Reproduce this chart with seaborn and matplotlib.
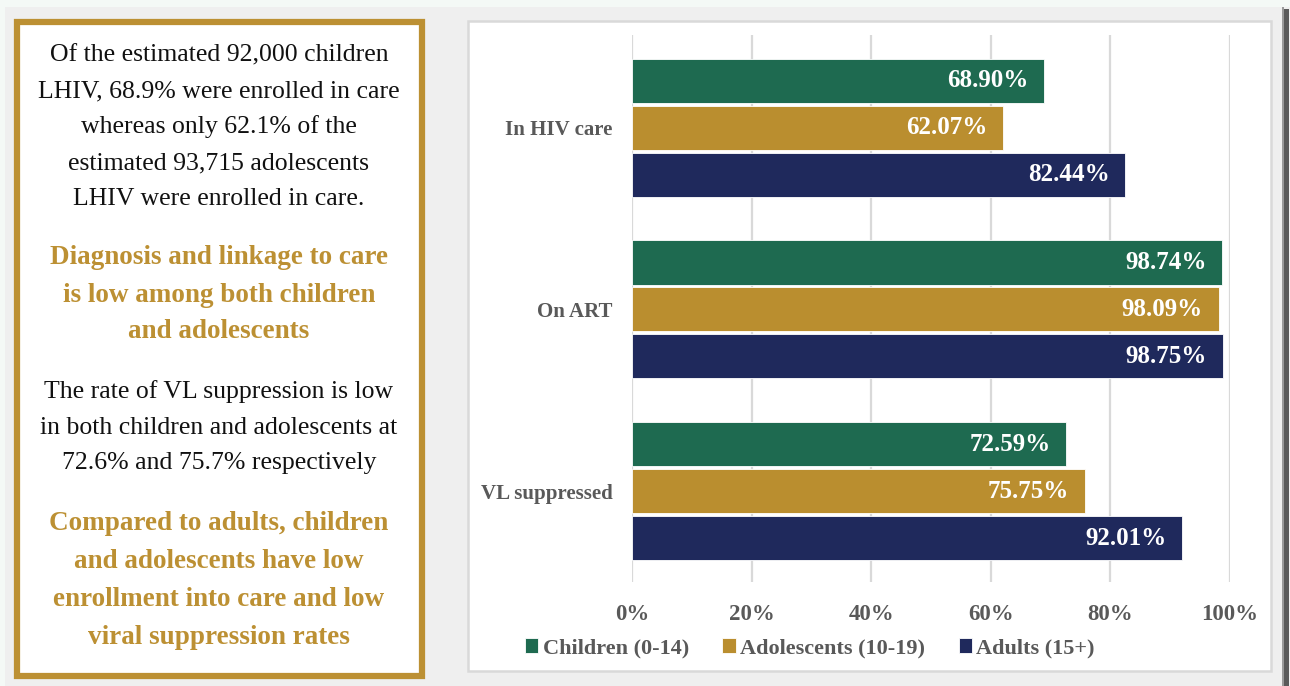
import matplotlib
matplotlib.use("Agg")
import matplotlib.pyplot as plt
from matplotlib.patches import Rectangle
import seaborn as sns
import pandas as pd

# ---- data -------------------------------------------------------------
measures = ["In HIV care", "On ART", "VL suppressed"]
groups = ["Children (0-14)", "Adolescents (10-19)", "Adults (15+)"]
children = [68.90, 98.74, 72.59]
adolescents = [62.07, 98.09, 75.75]
adults = [82.44, 98.75, 92.01]
x_ticks = [0, 20, 40, 60, 80, 100]
x_tick_labels = ["0%", "20%", "40%", "60%", "80%", "100%"]

colors = ["#1E6A50", "#BA8E2F", "#1F295C"]
gold = "#BC9033"
label_grey = "#595959"

df = pd.DataFrame({
    "measure": measures * 3,
    "group": [g for g in groups for _ in measures],
    "value": children + adolescents + adults,
})

# ---- figure -----------------------------------------------------------
W, H = 1290, 686
sns.set_style("white")
plt.rcParams["font.family"] = ["Liberation Serif", "DejaVu Serif"]

fig = plt.figure(figsize=(W / 100, H / 100), dpi=100, facecolor="#efefef")


def fx(px):
    return px / W


def fy(py):
    return 1 - py / H


def rect(x0, y0, x1, y1, **kw):
    fig.add_artist(Rectangle((fx(x0), fy(y1)), fx(x1) - fx(x0), fy(y0) - fy(y1),
                             transform=fig.transFigure, zorder=-1, **kw))


# page background strips
rect(0, 0, W, 7, facecolor="#f4f9f6", edgecolor="none")
rect(0, 0, 5, H, facecolor="#f4f9f6", edgecolor="none")

# left text panel with gold frame
rect(17, 22, 422, 676, facecolor="white", edgecolor=gold, linewidth=4.5)

# right chart panel: shadow, grey card, white inner frame
rect(1283, 9, 1289, H, facecolor="#5a5a5a", edgecolor="none")
rect(1282, 7, 1284, H, facecolor="#9a9a9a", edgecolor="none")
rect(468, 21, 1271, 671, facecolor="white", edgecolor="#d9d9d9", linewidth=1.8)

# ---- left panel text --------------------------------------------------
cx = 219
black_lines = [
    ("Of the estimated 92,000 children", 55),
    ("LHIV, 68.9% were enrolled in care", 91),
    ("whereas only 62.1% of the", 127),
    ("estimated 93,715 adolescents", 163),
    ("LHIV were enrolled in care.", 199),
    ("The rate of VL suppression is low", 392),
    ("in both children and adolescents at", 428),
    ("72.6% and 75.7% respectively", 463),
]
gold_lines = [
    ("Diagnosis and linkage to care", 258),
    ("is low among both children", 295),
    ("and adolescents", 332),
    ("Compared to adults, children", 523),
    ("and adolescents have low", 561),
    ("enrollment into care and low", 599),
    ("viral suppression rates", 637),
]
for txt, y in black_lines:
    fig.text(fx(cx), fy(y), txt, ha="center", va="center", fontsize=18.5,
             color="#111111")
for txt, y in gold_lines:
    fig.text(fx(cx), fy(y), txt, ha="center", va="center", fontsize=19.5,
             color=gold, fontweight="bold")

# ---- bar chart --------------------------------------------------------
ax_l, ax_r, ax_t, ax_b = 632, 1230, 35, 582
ax = fig.add_axes([fx(ax_l), fy(ax_b), fx(ax_r) - fx(ax_l), fy(ax_t) - fy(ax_b)])
ax.set_facecolor("none")

sns.barplot(data=df, x="value", y="measure", hue="group", orient="h",
            palette=colors, saturation=1, width=0.775, gap=0.06, ax=ax,
            edgecolor="white", linewidth=0.6, legend=True, zorder=3)

ax.set_xlim(0, 100)
ax.set_ylim(2.5, -0.51)
ax.set_xticks(x_ticks)
ax.set_xticklabels(x_tick_labels)
ax.grid(axis="x", color="#d9d9d9", linewidth=1.6, zorder=0)
ax.grid(axis="y", visible=False)
ax.set_axisbelow(True)
for s in ax.spines.values():
    s.set_visible(False)
ax.set_xlabel("")
ax.set_ylabel("")
ax.tick_params(axis="x", length=0, pad=16, labelsize=16.5, labelcolor=label_grey)
ax.tick_params(axis="y", length=0, pad=14, labelsize=15, labelcolor=label_grey)
for lbl in ax.get_xticklabels() + ax.get_yticklabels():
    lbl.set_fontweight("bold")

# value labels inside bar ends
for container, vals in zip(ax.containers, [children, adolescents, adults]):
    for bar, v in zip(container, vals):
        ax.text(v - 2.6, bar.get_y() + bar.get_height() / 2, f"{v:.2f}%",
                ha="right", va="center", color="white", fontsize=18,
                fontweight="bold", zorder=4)

# legend beneath the axis
handles, labels = ax.get_legend_handles_labels()
ax.legend_.remove()
fig.legend(handles, labels, loc="center", bbox_to_anchor=(fx(810), fy(648)),
           ncol=3, frameon=False, handlelength=0.6, handleheight=0.7,
           handletextpad=0.2, columnspacing=1.5,
           prop={"weight": "bold", "size": 16})
for t in fig.legends[0].get_texts():
    t.set_color(label_grey)

fig.savefig("out.png", dpi=100, facecolor=fig.get_facecolor())
